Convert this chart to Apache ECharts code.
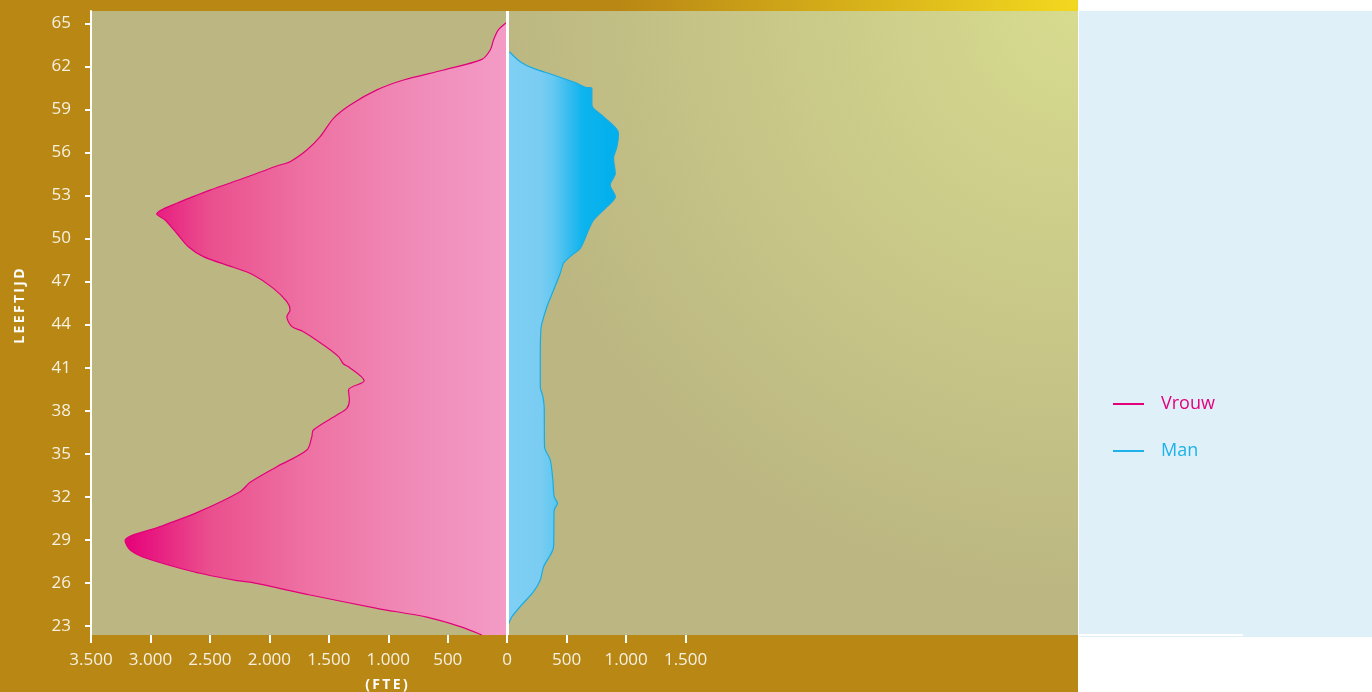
<!DOCTYPE html>
<html><head><meta charset="utf-8">
<script src="https://cdn.jsdelivr.net/npm/echarts@6/dist/echarts.min.js"></script>
<style>
html,body{margin:0;padding:0;background:#fff;width:1372px;height:692px;overflow:hidden}
#frame{position:absolute;left:0;top:0;width:1078px;height:692px;background:radial-gradient(circle 460px at 1078px 0px,#f3d81f 0%,#b98714 100%)}
#panel{position:absolute;left:1079px;top:11px;width:293px;height:626px;background:#dff0f9}
#edge{position:absolute;left:1078px;top:634px;width:165px;height:2px;background:#fff}
#chart{position:absolute;left:0;top:0;width:1372px;height:692px}
</style></head>
<body>
<div id="frame"></div><div id="panel"></div><div id="edge"></div>
<div id="chart"></div>
<script>
// ---- data ----
const femaleAges = [22.37,22.95,23.61,24.23,25.16,26.05,26.16,26.78,27.79,28.30,28.94,29.92,30.90,32.36,33.01,34.10,35.26,36.19,36.66,37.70,38.17,38.75,39.45,40.09,41.07,41.26,41.77,42.58,43.51,43.86,44.55,45.02,45.60,46.53,47.46,48.00,48.74,49.43,50.37,51.29,51.71,52.46,53.38,54.20,55.06,55.36,56.17,57.10,58.38,59.31,60.36,61.05,61.75,62.49,63.14,63.84,64.53,65.04];
const femaleFte = [-213,-395,-676,-1096,-1657,-2162,-2274,-2639,-3060,-3172,-3214,-2919,-2610,-2246,-2162,-1937,-1685,-1643,-1630,-1433,-1349,-1327,-1335,-1203,-1335,-1377,-1419,-1545,-1714,-1811,-1853,-1826,-1853,-1966,-2134,-2303,-2555,-2681,-2779,-2877,-2947,-2779,-2499,-2218,-1937,-1826,-1685,-1573,-1461,-1321,-1096,-872,-536,-213,-143,-115,-76,-8];
const maleAges = [23.00,23.30,23.65,24.35,25.39,26.21,27.13,28.53,31.08,31.55,32.01,33.17,34.57,35.49,38.28,38.98,39.68,42.00,43.63,44.09,45.25,46.41,47.58,48.28,48.85,49.32,50.60,51.29,52.22,52.92,53.73,54.55,55.59,56.40,57.33,58.49,59.31,60.47,60.54,60.82,61.40,61.86,62.33,63.02];
const maleFte = [5,19,40,109,221,278,306,390,395,423,395,384,362,314,311,300,278,278,283,292,334,390,446,474,544,614,684,726,839,909,866,909,894,923,936,810,712,712,656,586,390,221,109,19];
const ageTicks = [23,26,29,32,35,38,41,44,47,50,53,56,59,62,65];
const fteTicks = [-3500,-3000,-2500,-2000,-1500,-1000,-500,0,500,1000,1500];
const ageMin = 22.37, ageMax = 65.86;

// fine age categories (0.01 year) so points sit at their read age
const ageCats = [];
for (let i = Math.round(ageMin*100); i <= Math.round(ageMax*100); i++) ageCats.push((i/100).toFixed(2));
const pairs = (ages, vals) => ages.map((a, i) => [vals[i], a.toFixed(2)]);
const fmt = v => String(Math.abs(v)).replace(/\B(?=(\d{3})+(?!\d))/g, '.');
const isTick = (idx, val) => ageTicks.indexOf(Number(val)) >= 0;
const spaced = s => s.split('').join('\u2009');

const chart = echarts.init(document.getElementById('chart'), null, {renderer:'canvas'});
const FONT = '"Open Sans", "Noto Sans", sans-serif';
chart.setOption({
  animation: false,
  backgroundColor: 'transparent',
  textStyle: {fontFamily: FONT},
  grid: {
    left: 91, right: 294, top: 11, bottom: 57, show: true, borderWidth: 0,
    outerBoundsMode: 'none', containLabel: false,
    backgroundColor: {type:'radial', x:1078, y:11, r:580, global:true,
      colorStops:[{offset:0,color:'#d7db8f'},{offset:1,color:'#bcb782'}]}
  },
  legend: {
    orient: 'vertical', left: 1113, top: 394, padding: 0, itemGap: 27,
    itemWidth: 31, itemHeight: 2, icon: 'rect',
    textStyle: {fontSize: 18, lineHeight: 20, fontFamily: FONT, padding: [0,0,0,12]},
    data: [{name:'Vrouw', textStyle:{color:'#e4007c'}}, {name:'Man', textStyle:{color:'#1db2ea'}}]
  },
  xAxis: {
    type: 'value', min: -3500, max: 4800, interval: 500,
    splitLine: {show: false},
    axisLine: {onZero: false, lineStyle: {color: '#ffffff', width: 2}},
    axisTick: {show: true, length: 8, customValues: fteTicks, lineStyle: {color: '#ffffff', width: 2}},
    axisLabel: {customValues: fteTicks, margin: 17, color: '#f7f1e1', fontSize: 17, fontFamily: FONT, formatter: v => fmt(v)},
    name: spaced('(FTE)'), nameLocation: 'middle', nameGap: 43,
    nameTextStyle: {color: '#ffffff', fontWeight: 'bold', fontSize: 14, fontFamily: FONT, padding: [0, 396, 0, 0]}
  },
  yAxis: {
    type: 'category', data: ageCats, boundaryGap: false,
    axisLine: {onZero: false, lineStyle: {color: '#ffffff', width: 2}},
    axisTick: {show: true, length: 6, interval: isTick, lineStyle: {color: '#ffffff', width: 2}},
    axisLabel: {interval: isTick, margin: 20, color: '#f7f1e1', fontSize: 17, fontFamily: FONT, formatter: v => String(Math.round(Number(v)))},
    splitLine: {show: false},
    name: spaced('LEEFTIJD'), nameLocation: 'middle', nameRotate: 90, nameGap: 64,
    nameTextStyle: {color: '#ffffff', fontWeight: 'bold', fontSize: 14, fontFamily: FONT, padding: [0, 0, 0, 34]}
  },
  series: [
    {
      name: 'Vrouw', type: 'line', color: '#e4007c', smooth: 0.3, showSymbol: false, silent: true,
      data: pairs(femaleAges, femaleFte),
      lineStyle: {color: '#e2007a', width: 1.2},
      areaStyle: {opacity: 1, color: {type:'linear', x:0, y:0, x2:1, y2:0, colorStops:[
        {offset:0,color:'#e6007a'},{offset:0.22,color:'#ea4f8d'},{offset:0.48,color:'#ee72a3'},
        {offset:0.75,color:'#f08ab7'},{offset:1,color:'#f39cc6'}]}}
    },
    {
      name: 'Man', type: 'line', color: '#1db2ea', smooth: 0.3, showSymbol: false, silent: true,
      data: pairs(maleAges, maleFte),
      lineStyle: {color: '#19ace4', width: 1.2},
      areaStyle: {opacity: 1, color: {type:'linear', x:0, y:0, x2:1, y2:0, colorStops:[
        {offset:0,color:'#7fd0f4'},{offset:0.3,color:'#7accf2'},{offset:0.42,color:'#62c8f1'},
        {offset:0.55,color:'#38bcef'},{offset:0.68,color:'#0db4ee'},{offset:1,color:'#00afec'}]}},
      markLine: {silent: true, symbol: 'none', label: {show: false},
        lineStyle: {color: '#ffffff', width: 3, type: 'solid'}, data: [{xAxis: 0}]}
    }
  ]
});
</script>
</body></html>
